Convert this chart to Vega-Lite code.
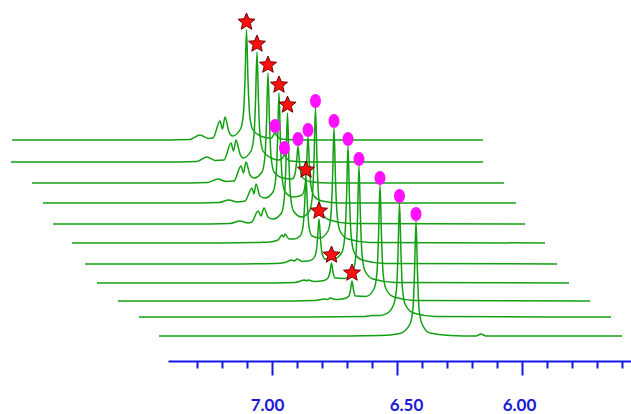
{
"$schema": "https://vega.github.io/schema/vega-lite/v6.json",
"width": 463, "height": 361,
"autosize": {"type": "none"},
"padding": {"left": 168, "top": 0, "right": 0, "bottom": 53},
"background": "white",
"config": {"view": {"stroke": null}},
"datasets": {
"spectra": [
{"trace":1,"ppm":8.040,"intensity":110.5},{"trace":1,"ppm":7.488,"intensity":110.5},{"trace":1,"ppm":7.328,"intensity":110.8},{"trace":1,"ppm":7.288,"intensity":113.0},{"trace":1,"ppm":7.256,"intensity":111.3},{"trace":1,"ppm":7.236,"intensity":111.5},{"trace":1,"ppm":7.208,"intensity":120.0},{"trace":1,"ppm":7.198,"intensity":116.0},{"trace":1,"ppm":7.188,"intensity":122.0},{"trace":1,"ppm":7.172,"intensity":114.5},{"trace":1,"ppm":7.158,"intensity":112.5},{"trace":1,"ppm":7.126,"intensity":116.0},{"trace":1,"ppm":7.114,"intensity":124.0},{"trace":1,"ppm":7.108,"intensity":140.5},{"trace":1,"ppm":7.102,"intensity":165.5},{"trace":1,"ppm":7.096,"intensity":140.5},{"trace":1,"ppm":7.090,"intensity":124.0},{"trace":1,"ppm":7.078,"intensity":116.0},{"trace":1,"ppm":7.046,"intensity":112.5},{"trace":1,"ppm":7.016,"intensity":111.5},{"trace":1,"ppm":7.004,"intensity":111.3},{"trace":1,"ppm":6.996,"intensity":112.5},{"trace":1,"ppm":6.988,"intensity":114.0},{"trace":1,"ppm":6.980,"intensity":112.5},{"trace":1,"ppm":6.964,"intensity":111.0},{"trace":1,"ppm":6.888,"intensity":110.5},{"trace":1,"ppm":6.156,"intensity":110.5},
{"trace":2,"ppm":8.044,"intensity":99.5},{"trace":2,"ppm":7.448,"intensity":99.5},{"trace":2,"ppm":7.300,"intensity":99.8},{"trace":2,"ppm":7.260,"intensity":102.0},{"trace":2,"ppm":7.228,"intensity":100.3},{"trace":2,"ppm":7.192,"intensity":100.5},{"trace":2,"ppm":7.164,"intensity":109.0},{"trace":2,"ppm":7.154,"intensity":105.0},{"trace":2,"ppm":7.144,"intensity":110.5},{"trace":2,"ppm":7.128,"intensity":103.5},{"trace":2,"ppm":7.116,"intensity":101.5},{"trace":2,"ppm":7.084,"intensity":105.0},{"trace":2,"ppm":7.072,"intensity":113.0},{"trace":2,"ppm":7.066,"intensity":129.5},{"trace":2,"ppm":7.060,"intensity":154.5},{"trace":2,"ppm":7.054,"intensity":129.5},{"trace":2,"ppm":7.048,"intensity":113.0},{"trace":2,"ppm":7.036,"intensity":105.0},{"trace":2,"ppm":7.004,"intensity":101.5},{"trace":2,"ppm":6.972,"intensity":100.5},{"trace":2,"ppm":6.958,"intensity":101.5},{"trace":2,"ppm":6.950,"intensity":103.0},{"trace":2,"ppm":6.942,"intensity":101.5},{"trace":2,"ppm":6.928,"intensity":100.0},{"trace":2,"ppm":6.848,"intensity":99.5},{"trace":2,"ppm":6.156,"intensity":99.5},
{"trace":3,"ppm":7.960,"intensity":89.0},{"trace":3,"ppm":7.408,"intensity":89.0},{"trace":3,"ppm":7.256,"intensity":89.3},{"trace":3,"ppm":7.216,"intensity":91.0},{"trace":3,"ppm":7.184,"intensity":89.8},{"trace":3,"ppm":7.152,"intensity":90.0},{"trace":3,"ppm":7.124,"intensity":97.5},{"trace":3,"ppm":7.114,"intensity":94.0},{"trace":3,"ppm":7.104,"intensity":99.5},{"trace":3,"ppm":7.088,"intensity":93.0},{"trace":3,"ppm":7.072,"intensity":91.5},{"trace":3,"ppm":7.040,"intensity":94.5},{"trace":3,"ppm":7.028,"intensity":102.5},{"trace":3,"ppm":7.022,"intensity":119.0},{"trace":3,"ppm":7.016,"intensity":144.0},{"trace":3,"ppm":7.010,"intensity":119.0},{"trace":3,"ppm":7.004,"intensity":102.5},{"trace":3,"ppm":6.992,"intensity":94.5},{"trace":3,"ppm":6.956,"intensity":91.5},{"trace":3,"ppm":6.920,"intensity":91.0},{"trace":3,"ppm":6.908,"intensity":93.5},{"trace":3,"ppm":6.902,"intensity":99.0},{"trace":3,"ppm":6.896,"intensity":107.5},{"trace":3,"ppm":6.890,"intensity":99.0},{"trace":3,"ppm":6.884,"intensity":93.5},{"trace":3,"ppm":6.872,"intensity":91.0},{"trace":3,"ppm":6.840,"intensity":89.5},{"trace":3,"ppm":6.768,"intensity":89.0},{"trace":3,"ppm":6.072,"intensity":89.0},
{"trace":4,"ppm":7.916,"intensity":79.0},{"trace":4,"ppm":7.368,"intensity":79.0},{"trace":4,"ppm":7.212,"intensity":79.3},{"trace":4,"ppm":7.172,"intensity":80.5},{"trace":4,"ppm":7.140,"intensity":79.5},{"trace":4,"ppm":7.108,"intensity":80.0},{"trace":4,"ppm":7.080,"intensity":86.5},{"trace":4,"ppm":7.072,"intensity":83.5},{"trace":4,"ppm":7.064,"intensity":88.5},{"trace":4,"ppm":7.048,"intensity":82.5},{"trace":4,"ppm":7.028,"intensity":81.5},{"trace":4,"ppm":6.996,"intensity":84.5},{"trace":4,"ppm":6.984,"intensity":92.5},{"trace":4,"ppm":6.978,"intensity":109.0},{"trace":4,"ppm":6.972,"intensity":134.0},{"trace":4,"ppm":6.966,"intensity":109.0},{"trace":4,"ppm":6.960,"intensity":92.5},{"trace":4,"ppm":6.948,"intensity":84.5},{"trace":4,"ppm":6.914,"intensity":82.0},{"trace":4,"ppm":6.880,"intensity":83.0},{"trace":4,"ppm":6.868,"intensity":87.5},{"trace":4,"ppm":6.862,"intensity":97.0},{"trace":4,"ppm":6.856,"intensity":112.0},{"trace":4,"ppm":6.850,"intensity":97.0},{"trace":4,"ppm":6.844,"intensity":87.5},{"trace":4,"ppm":6.832,"intensity":82.5},{"trace":4,"ppm":6.800,"intensity":80.0},{"trace":4,"ppm":6.728,"intensity":79.0},{"trace":4,"ppm":6.024,"intensity":79.0},
{"trace":5,"ppm":7.876,"intensity":68.5},{"trace":5,"ppm":7.328,"intensity":68.5},{"trace":5,"ppm":7.168,"intensity":68.8},{"trace":5,"ppm":7.128,"intensity":70.0},{"trace":5,"ppm":7.096,"intensity":69.0},{"trace":5,"ppm":7.080,"intensity":69.5},{"trace":5,"ppm":7.056,"intensity":75.0},{"trace":5,"ppm":7.044,"intensity":72.5},{"trace":5,"ppm":7.032,"intensity":76.5},{"trace":5,"ppm":7.016,"intensity":72.0},{"trace":5,"ppm":6.996,"intensity":71.0},{"trace":5,"ppm":6.962,"intensity":74.0},{"trace":5,"ppm":6.950,"intensity":82.5},{"trace":5,"ppm":6.944,"intensity":99.0},{"trace":5,"ppm":6.938,"intensity":124.0},{"trace":5,"ppm":6.932,"intensity":99.0},{"trace":5,"ppm":6.926,"intensity":82.5},{"trace":5,"ppm":6.914,"intensity":75.0},{"trace":5,"ppm":6.882,"intensity":72.0},{"trace":5,"ppm":6.850,"intensity":75.0},{"trace":5,"ppm":6.838,"intensity":83.0},{"trace":5,"ppm":6.832,"intensity":100.5},{"trace":5,"ppm":6.826,"intensity":126.5},{"trace":5,"ppm":6.820,"intensity":100.5},{"trace":5,"ppm":6.814,"intensity":83.0},{"trace":5,"ppm":6.802,"intensity":74.5},{"trace":5,"ppm":6.770,"intensity":70.5},{"trace":5,"ppm":6.688,"intensity":68.8},{"trace":5,"ppm":5.988,"intensity":68.5},
{"trace":6,"ppm":7.800,"intensity":59.0},{"trace":6,"ppm":7.208,"intensity":59.0},{"trace":6,"ppm":7.048,"intensity":59.3},{"trace":6,"ppm":7.008,"intensity":59.5},{"trace":6,"ppm":6.976,"intensity":60.5},{"trace":6,"ppm":6.960,"intensity":63.0},{"trace":6,"ppm":6.954,"intensity":62.0},{"trace":6,"ppm":6.948,"intensity":63.5},{"trace":6,"ppm":6.932,"intensity":61.0},{"trace":6,"ppm":6.912,"intensity":61.0},{"trace":6,"ppm":6.888,"intensity":62.5},{"trace":6,"ppm":6.876,"intensity":67.0},{"trace":6,"ppm":6.870,"intensity":77.0},{"trace":6,"ppm":6.864,"intensity":91.5},{"trace":6,"ppm":6.858,"intensity":77.0},{"trace":6,"ppm":6.852,"intensity":67.0},{"trace":6,"ppm":6.840,"intensity":62.5},{"trace":6,"ppm":6.808,"intensity":61.5},{"trace":6,"ppm":6.776,"intensity":65.0},{"trace":6,"ppm":6.764,"intensity":73.5},{"trace":6,"ppm":6.758,"intensity":90.5},{"trace":6,"ppm":6.752,"intensity":116.5},{"trace":6,"ppm":6.746,"intensity":90.5},{"trace":6,"ppm":6.740,"intensity":73.5},{"trace":6,"ppm":6.728,"intensity":65.0},{"trace":6,"ppm":6.696,"intensity":61.0},{"trace":6,"ppm":6.608,"intensity":59.3},{"trace":6,"ppm":5.908,"intensity":59.0},
{"trace":7,"ppm":7.748,"intensity":48.5},{"trace":7,"ppm":7.168,"intensity":48.5},{"trace":7,"ppm":6.988,"intensity":48.8},{"trace":7,"ppm":6.948,"intensity":49.3},{"trace":7,"ppm":6.920,"intensity":50.5},{"trace":7,"ppm":6.910,"intensity":50.0},{"trace":7,"ppm":6.900,"intensity":51.0},{"trace":7,"ppm":6.880,"intensity":49.8},{"trace":7,"ppm":6.856,"intensity":50.0},{"trace":7,"ppm":6.836,"intensity":51.0},{"trace":7,"ppm":6.824,"intensity":54.0},{"trace":7,"ppm":6.818,"intensity":61.0},{"trace":7,"ppm":6.812,"intensity":71.0},{"trace":7,"ppm":6.806,"intensity":61.0},{"trace":7,"ppm":6.800,"intensity":54.0},{"trace":7,"ppm":6.788,"intensity":51.0},{"trace":7,"ppm":6.756,"intensity":50.8},{"trace":7,"ppm":6.720,"intensity":54.5},{"trace":7,"ppm":6.708,"intensity":63.5},{"trace":7,"ppm":6.702,"intensity":81.0},{"trace":7,"ppm":6.696,"intensity":107.5},{"trace":7,"ppm":6.690,"intensity":81.0},{"trace":7,"ppm":6.684,"intensity":63.5},{"trace":7,"ppm":6.672,"intensity":54.5},{"trace":7,"ppm":6.640,"intensity":50.5},{"trace":7,"ppm":6.548,"intensity":48.8},{"trace":7,"ppm":5.860,"intensity":48.5},
{"trace":8,"ppm":7.700,"intensity":39.0},{"trace":8,"ppm":7.088,"intensity":39.0},{"trace":8,"ppm":6.908,"intensity":39.3},{"trace":8,"ppm":6.868,"intensity":40.5},{"trace":8,"ppm":6.862,"intensity":40.0},{"trace":8,"ppm":6.856,"intensity":40.5},{"trace":8,"ppm":6.832,"intensity":39.8},{"trace":8,"ppm":6.792,"intensity":40.3},{"trace":8,"ppm":6.776,"intensity":41.5},{"trace":8,"ppm":6.768,"intensity":44.5},{"trace":8,"ppm":6.762,"intensity":49.0},{"trace":8,"ppm":6.756,"intensity":44.5},{"trace":8,"ppm":6.748,"intensity":41.5},{"trace":8,"ppm":6.708,"intensity":41.3},{"trace":8,"ppm":6.676,"intensity":45.0},{"trace":8,"ppm":6.664,"intensity":53.5},{"trace":8,"ppm":6.658,"intensity":71.0},{"trace":8,"ppm":6.652,"intensity":97.5},{"trace":8,"ppm":6.646,"intensity":71.0},{"trace":8,"ppm":6.640,"intensity":53.5},{"trace":8,"ppm":6.628,"intensity":45.0},{"trace":8,"ppm":6.596,"intensity":41.0},{"trace":8,"ppm":6.508,"intensity":39.3},{"trace":8,"ppm":5.812,"intensity":39.0},
{"trace":9,"ppm":7.616,"intensity":30.0},{"trace":9,"ppm":7.008,"intensity":30.0},{"trace":9,"ppm":6.828,"intensity":30.3},{"trace":9,"ppm":6.788,"intensity":31.0},{"trace":9,"ppm":6.778,"intensity":30.8},{"trace":9,"ppm":6.768,"intensity":31.5},{"trace":9,"ppm":6.744,"intensity":30.8},{"trace":9,"ppm":6.708,"intensity":31.3},{"trace":9,"ppm":6.692,"intensity":32.5},{"trace":9,"ppm":6.686,"intensity":35.5},{"trace":9,"ppm":6.680,"intensity":40.0},{"trace":9,"ppm":6.674,"intensity":35.5},{"trace":9,"ppm":6.666,"intensity":32.5},{"trace":9,"ppm":6.624,"intensity":32.3},{"trace":9,"ppm":6.592,"intensity":36.0},{"trace":9,"ppm":6.580,"intensity":44.5},{"trace":9,"ppm":6.574,"intensity":62.0},{"trace":9,"ppm":6.568,"intensity":88.0},{"trace":9,"ppm":6.562,"intensity":62.0},{"trace":9,"ppm":6.556,"intensity":44.5},{"trace":9,"ppm":6.544,"intensity":36.0},{"trace":9,"ppm":6.512,"intensity":32.0},{"trace":9,"ppm":6.428,"intensity":30.3},{"trace":9,"ppm":5.728,"intensity":30.0},
{"trace":10,"ppm":7.532,"intensity":22.0},{"trace":10,"ppm":6.888,"intensity":22.0},{"trace":10,"ppm":6.628,"intensity":22.3},{"trace":10,"ppm":6.600,"intensity":22.8},{"trace":10,"ppm":6.568,"intensity":22.8},{"trace":10,"ppm":6.540,"intensity":23.8},{"trace":10,"ppm":6.514,"intensity":28.0},{"trace":10,"ppm":6.502,"intensity":36.0},{"trace":10,"ppm":6.496,"intensity":53.5},{"trace":10,"ppm":6.490,"intensity":79.0},{"trace":10,"ppm":6.484,"intensity":53.5},{"trace":10,"ppm":6.478,"intensity":36.0},{"trace":10,"ppm":6.466,"intensity":28.0},{"trace":10,"ppm":6.434,"intensity":24.0},{"trace":10,"ppm":6.348,"intensity":22.3},{"trace":10,"ppm":5.644,"intensity":22.0},
{"trace":11,"ppm":7.452,"intensity":12.5},{"trace":11,"ppm":6.808,"intensity":12.5},{"trace":11,"ppm":6.568,"intensity":12.8},{"trace":11,"ppm":6.488,"intensity":13.8},{"trace":11,"ppm":6.448,"intensity":18.5},{"trace":11,"ppm":6.436,"intensity":26.5},{"trace":11,"ppm":6.430,"intensity":44.0},{"trace":11,"ppm":6.424,"intensity":70.0},{"trace":11,"ppm":6.418,"intensity":44.0},{"trace":11,"ppm":6.412,"intensity":26.5},{"trace":11,"ppm":6.400,"intensity":18.5},{"trace":11,"ppm":6.368,"intensity":14.0},{"trace":11,"ppm":6.288,"intensity":12.8},{"trace":11,"ppm":6.184,"intensity":12.5},{"trace":11,"ppm":6.164,"intensity":13.5},{"trace":11,"ppm":6.144,"intensity":12.5},{"trace":11,"ppm":5.600,"intensity":12.5}
],
"stars": [
{"trace":1,"ppm":7.102,"intensity":165.5},{"trace":2,"ppm":7.060,"intensity":154.5},{"trace":3,"ppm":7.016,"intensity":144.0},{"trace":4,"ppm":6.972,"intensity":134.0},{"trace":5,"ppm":6.938,"intensity":124.0},{"trace":6,"ppm":6.864,"intensity":91.5},{"trace":7,"ppm":6.812,"intensity":71.0},{"trace":8,"ppm":6.762,"intensity":49.0},{"trace":9,"ppm":6.680,"intensity":40.0}
],
"circles": [
{"trace":1,"ppm":6.988,"intensity":114.0},{"trace":2,"ppm":6.950,"intensity":103.0},{"trace":3,"ppm":6.896,"intensity":107.5},{"trace":4,"ppm":6.856,"intensity":112.0},{"trace":5,"ppm":6.826,"intensity":126.5},{"trace":6,"ppm":6.752,"intensity":116.5},{"trace":7,"ppm":6.696,"intensity":107.5},{"trace":8,"ppm":6.652,"intensity":97.5},{"trace":9,"ppm":6.568,"intensity":88.0},{"trace":10,"ppm":6.490,"intensity":79.0},{"trace":11,"ppm":6.424,"intensity":70.0}
]
},
"encoding": {
"x": {"field": "ppm", "type": "quantitative",
 "scale": {"domain": [5.564, 7.416], "reverse": true, "nice": false, "zero": false},
 "axis": {"title": null, "grid": false,
  "values": [7.3,7.2,7.1,7.0,6.9,6.8,6.7,6.6,6.5,6.4,6.3,6.2,6.1,6.0,5.9,5.8,5.7,5.6],
  "domainColor": "#1515e6", "domainWidth": 2,
  "tickColor": "#1515e6", "tickWidth": 2,
  "tickSize": {"condition": {"test": "abs(datum.value*2-round(datum.value*2))<0.001", "value": 14}, "value": 7},
  "labelExpr": "abs(datum.value*2-round(datum.value*2))<0.001 ? format(datum.value,'.2f') : ''",
  "labelFont": "Lato", "labelFontWeight": "bold", "labelFontSize": 17, "labelColor": "#1a1ad6",
  "labelPadding": 22,
  "labelOffset": {"condition": [{"test": "abs(datum.value-7)<0.001", "value": -5}, {"test": "abs(datum.value-6.5)<0.001", "value": 9}], "value": -3},
  "labelOverlap": false, "labelFlush": false}},
"y": {"field": "intensity", "type": "quantitative",
 "scale": {"domain": [0, 180.5], "nice": false, "zero": false}, "axis": null}
},
"layer": [
{"data": {"name": "spectra"},
 "mark": {"type": "line", "interpolate": "monotone", "strokeWidth": 1.5, "color": "#12a012", "clip": false},
 "encoding": {"detail": {"field": "trace", "type": "nominal"}}},
{"data": {"name": "stars"},
 "mark": {"type": "point", "filled": true, "shape": "M0,-1L0.265,-0.364L0.951,-0.309L0.428,0.139L0.588,0.809L0,0.45L-0.588,0.809L-0.428,0.139L-0.951,-0.309L-0.265,-0.364Z", "size": 320, "fill": "#ff1010", "stroke": "#700000", "strokeWidth": 1, "opacity": 1, "yOffset": -8}},
{"data": {"name": "circles"},
 "mark": {"type": "point", "filled": true, "shape": "M-0.78,0A0.78,1,0,1,1,0.78,0A0.78,1,0,1,1,-0.78,0Z", "size": 196, "fill": "#ff10ff", "opacity": 1, "yOffset": -7}}
]
}
